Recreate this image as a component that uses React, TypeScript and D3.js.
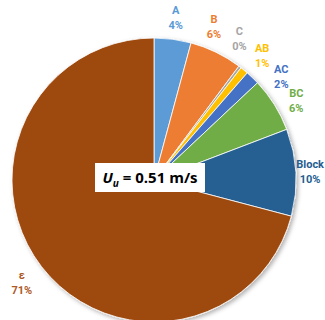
import { useEffect, useRef } from "react";
import * as d3 from "d3";

const categories = ["A", "B", "C", "AB", "AC", "BC", "Block", "ε"];
const shares = [4.2, 6.0, 0.3, 0.9, 1.6, 6.2, 9.9, 70.9];
const colors = ["#5B9BD5", "#ED7D31", "#A5A5A5", "#FFC000", "#4472C4", "#70AD47", "#255E91", "#9E480E"];
const labelColors = ["#5B9BD5", "#ED7D31", "#A5A5A5", "#FFC000", "#4472C4", "#70AD47", "#255E91", "#AE5A28"];
const pctLabels = ["4%", "6%", "0%", "1%", "2%", "6%", "10%", "71%"];

const W = 325;
const H = 320;
const CX = 154;
const CY = 180;
const R = 142;
const PAD = 9;
const LINE_GAP = 15;
const MIN_SEP = (9.8 * Math.PI) / 180;

export default function App() {
  const svgRef = useRef<SVGSVGElement>(null);

  useEffect(() => {
    if (!svgRef.current) return;
    const root = d3.select(svgRef.current);
    root.selectAll("*").remove();

    const defs = root.append("defs");
    defs
      .append("filter")
      .attr("id", "shadow")
      .attr("x", "-10%")
      .attr("y", "-10%")
      .attr("width", "120%")
      .attr("height", "120%")
      .append("feDropShadow")
      .attr("dx", 2)
      .attr("dy", 2)
      .attr("stdDeviation", 2)
      .attr("flood-color", "#000")
      .attr("flood-opacity", 0.3);

    const g = root.append("g").attr("transform", `translate(${CX},${CY})`);

    const pie = d3.pie<number>().sort(null).value((d) => d);
    const arcs = pie(shares);
    const arc = d3.arc<d3.PieArcDatum<number>>().innerRadius(0).outerRadius(R);

    g.append("g")
      .attr("filter", "url(#shadow)")
      .selectAll("path")
      .data(arcs)
      .join("path")
      .attr("d", arc)
      .attr("fill", (_, i) => colors[i])
      .attr("stroke", "#fff")
      .attr("stroke-width", 0.8);

    // label angles: slice middles, crowded ones pushed apart (not the big last slice)
    const ang = arcs.map((a) => (a.startAngle + a.endAngle) / 2);
    for (let it = 0; it < 200; it++) {
      for (let i = 0; i < ang.length - 2; i++) {
        const gap = ang[i + 1] - ang[i];
        if (gap < MIN_SEP) {
          const push = (MIN_SEP - gap) / 2;
          ang[i] -= push;
          ang[i + 1] += push;
        }
      }
    }

    const labels = g
      .append("g")
      .attr("font-family", "Roboto, sans-serif")
      .attr("font-weight", 700)
      .attr("font-size", 11);

    arcs.forEach((_, i) => {
      const t = labels.append("text").attr("text-anchor", "middle").attr("fill", labelColors[i]);
      const s1 = t.append("tspan").text(categories[i]);
      const s2 = t.append("tspan").text(pctLabels[i]);
      const w = Math.max(
        (s1.node() as SVGTSpanElement).getComputedTextLength(),
        (s2.node() as SVGTSpanElement).getComputedTextLength()
      );
      const h = LINE_GAP + 10;
      const sin = Math.sin(ang[i]);
      const cos = Math.cos(ang[i]);
      const r = R + PAD + (w / 2) * Math.abs(sin) + (h / 2) * Math.abs(cos);
      let x = sin * r;
      const y = -cos * r;
      x = Math.min(x, W - CX - 1 - w / 2);
      x = Math.max(x, -CX + 1 + w / 2);
      s1.attr("x", x).attr("y", y - 3);
      s2.attr("x", x).attr("y", y + LINE_GAP - 3);
    });

    const box = g.append("g").attr("transform", "translate(-4,-2)");
    box.append("rect").attr("x", -55).attr("y", -15).attr("width", 110).attr("height", 29).attr("fill", "#fff");
    const tt = box
      .append("text")
      .attr("text-anchor", "middle")
      .attr("y", 5)
      .attr("font-family", "'Open Sans', sans-serif")
      .attr("font-weight", 700)
      .attr("font-size", 15)
      .attr("fill", "#000");
    tt.append("tspan").attr("font-style", "italic").text("U");
    tt.append("tspan").attr("font-style", "italic").attr("font-size", 10).attr("dy", 4).text("u");
    tt.append("tspan").attr("dy", -4).text(" = 0.51 m/s");
  }, []);

  return (
    <div style={{ position: "fixed", left: 0, top: 0, background: "#fff" }}>
      <svg ref={svgRef} width={W} height={H} viewBox={`0 0 ${W} ${H}`} style={{ display: "block" }} />
    </div>
  );
}
